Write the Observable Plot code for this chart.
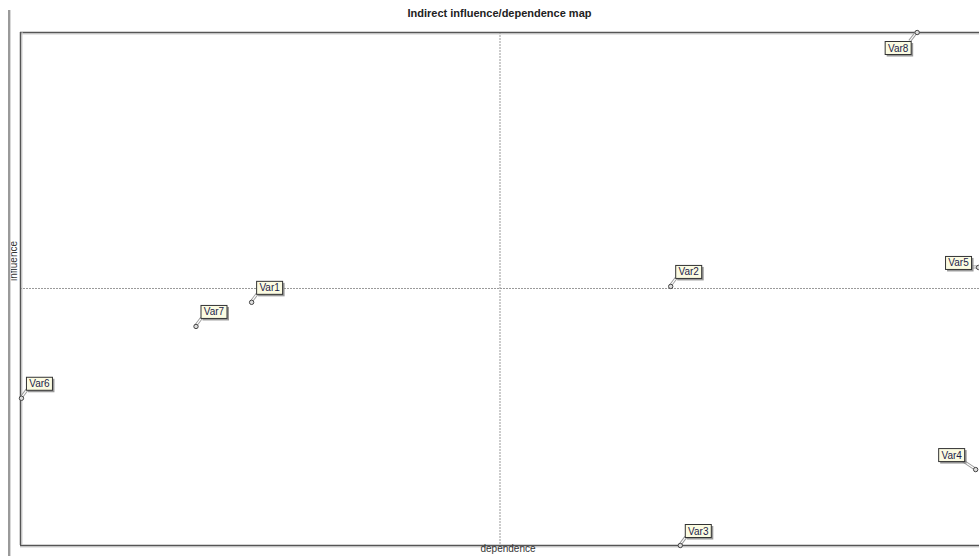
<!DOCTYPE html>
<html>
<head>
<meta charset="utf-8">
<script src="https://cdn.jsdelivr.net/npm/d3@7"></script>
<script src="https://cdn.jsdelivr.net/npm/@observablehq/plot@0.6"></script>
<style>
  html, body { margin: 0; padding: 0; background: #fff; }
  #wrap { position: relative; width: 979px; height: 556px; overflow: hidden; }
  #title { height: 26px; padding-left: 20px; width: 959px; text-align: center;
           font: bold 11px "Liberation Sans", Arial, sans-serif; line-height: 26px; color: #222; }
  #edge { position: absolute; left: 8px; top: 10px; width: 2px; height: 546px; background: #9a9a9a;
          box-shadow: 1px 0 0 #d8d8d8; }
  svg { display: block; }
</style>
</head>
<body>
<div id="wrap">
  <div id="edge"></div>
  <div id="title">Indirect influence/dependence map</div>
  <div id="chart"></div>
</div>
<script>
// ---- data ----
const names      = ["Var1", "Var2", "Var3", "Var4", "Var5", "Var6", "Var7", "Var8"];
const dependence = [24.1, 67.8, 68.8, 99.6, 99.9, 0.1, 18.3, 93.5];
const influence  = [47.4, 50.5, 0.0, 14.8, 54.2, 28.7, 42.7, 100.0];
const medianDependence = 50.0;
const medianInfluence = 50.1;
const xLabel = "dependence";
const yLabel = "influence";
// label placement relative to the point (default: upper right)
const labelSide = {Var4: "nw", Var5: "w", Var8: "sw"};

const data = names.map((name, i) => ({name, x: dependence[i], y: influence[i], side: labelSide[name] || "ne"}));

const FONT = "10px 'Liberation Sans', Arial, sans-serif";

function labelMark(index, scales) {
  const g = d3.create("svg:g");
  const ctx = document.createElement("canvas").getContext("2d");
  ctx.font = FONT;
  for (const d of data) {
    const px = scales.x(d.x), py = scales.y(d.y);
    const w = Math.round(ctx.measureText(d.name).width) + 6, h = 13;
    let bx, by, cx, cy;
    switch (d.side) {
      case "sw": bx = px - 6 - w; by = py + 9; cx = bx + w - 1; cy = by; break;
      case "w":  bx = px - 7 - w; by = py + 2 - h; cx = bx + w; cy = by + h - 2; break;
      case "nw": bx = px - 11 - w; by = py - 8 - h; cx = bx + w - 1; cy = by + h; break;
      default:   bx = px + 5; by = py - 8 - h; cx = bx + 1; cy = by + h;
    }
    g.append("line").attr("x1", px).attr("y1", py).attr("x2", cx).attr("y2", cy)
      .attr("stroke", "#9a9a9a").attr("stroke-width", 3);
    g.append("line").attr("x1", px).attr("y1", py).attr("x2", cx).attr("y2", cy)
      .attr("stroke", "#fff").attr("stroke-width", 1.2);
    g.append("rect").attr("x", bx + 2).attr("y", by + 2).attr("width", w + 0.5).attr("height", h + 0.5)
      .attr("fill", "#777").attr("opacity", 0.75);
    g.append("rect").attr("x", bx + 0.5).attr("y", by + 0.5).attr("width", w).attr("height", h)
      .attr("fill", "#fbfbe2").attr("stroke", "#333").attr("stroke-width", 1);
    g.append("text").attr("x", bx + 0.5 + w / 2).attr("y", by + 0.5 + h / 2)
      .attr("text-anchor", "middle").attr("dominant-baseline", "central")
      .style("font", FONT).attr("fill", "#1c1c4a").text(d.name);
  }
  return g.node();
}

const chart = Plot.plot({
  width: 979,
  height: 530,
  marginTop: 6,
  marginBottom: 11,
  marginLeft: 20,
  marginRight: 0,
  x: {domain: [0, 100], axis: null},
  y: {domain: [0, 100], axis: null},
  marks: [
    Plot.ruleX([medianDependence], {stroke: "#999", strokeDasharray: "2,1", strokeWidth: 1}),
    Plot.ruleY([medianInfluence], {stroke: "#999", strokeDasharray: "2,1", strokeWidth: 1}),
    Plot.ruleY([100], {stroke: "#d0d0d0", strokeWidth: 1, dy: 1.5}),
    Plot.ruleY([100], {stroke: "#555", strokeWidth: 1.5}),
    Plot.ruleY([0], {stroke: "#d0d0d0", strokeWidth: 1, dy: 1.5}),
    Plot.ruleY([0], {stroke: "#555", strokeWidth: 1.5}),
    Plot.ruleX([0], {stroke: "#d0d0d0", strokeWidth: 1, dx: 1.5}),
    Plot.ruleX([0], {stroke: "#555", strokeWidth: 1.5}),
    Plot.text([xLabel], {frameAnchor: "bottom", dx: 8, dy: 6, text: d => d, fontSize: 10, fill: "#333",
      fontFamily: "'Liberation Sans', Arial, sans-serif"}),
    Plot.text([yLabel], {frameAnchor: "left", dx: -7, dy: -8, rotate: -90, text: d => d, fontSize: 10, fill: "#333",
      fontFamily: "'Liberation Sans', Arial, sans-serif"}),
    labelMark,
    Plot.dot(data, {x: "x", y: "y", r: 2.2, fill: "#ddd", stroke: "#444", strokeWidth: 1})
  ]
});
document.getElementById("chart").appendChild(chart);
</script>
</body>
</html>
